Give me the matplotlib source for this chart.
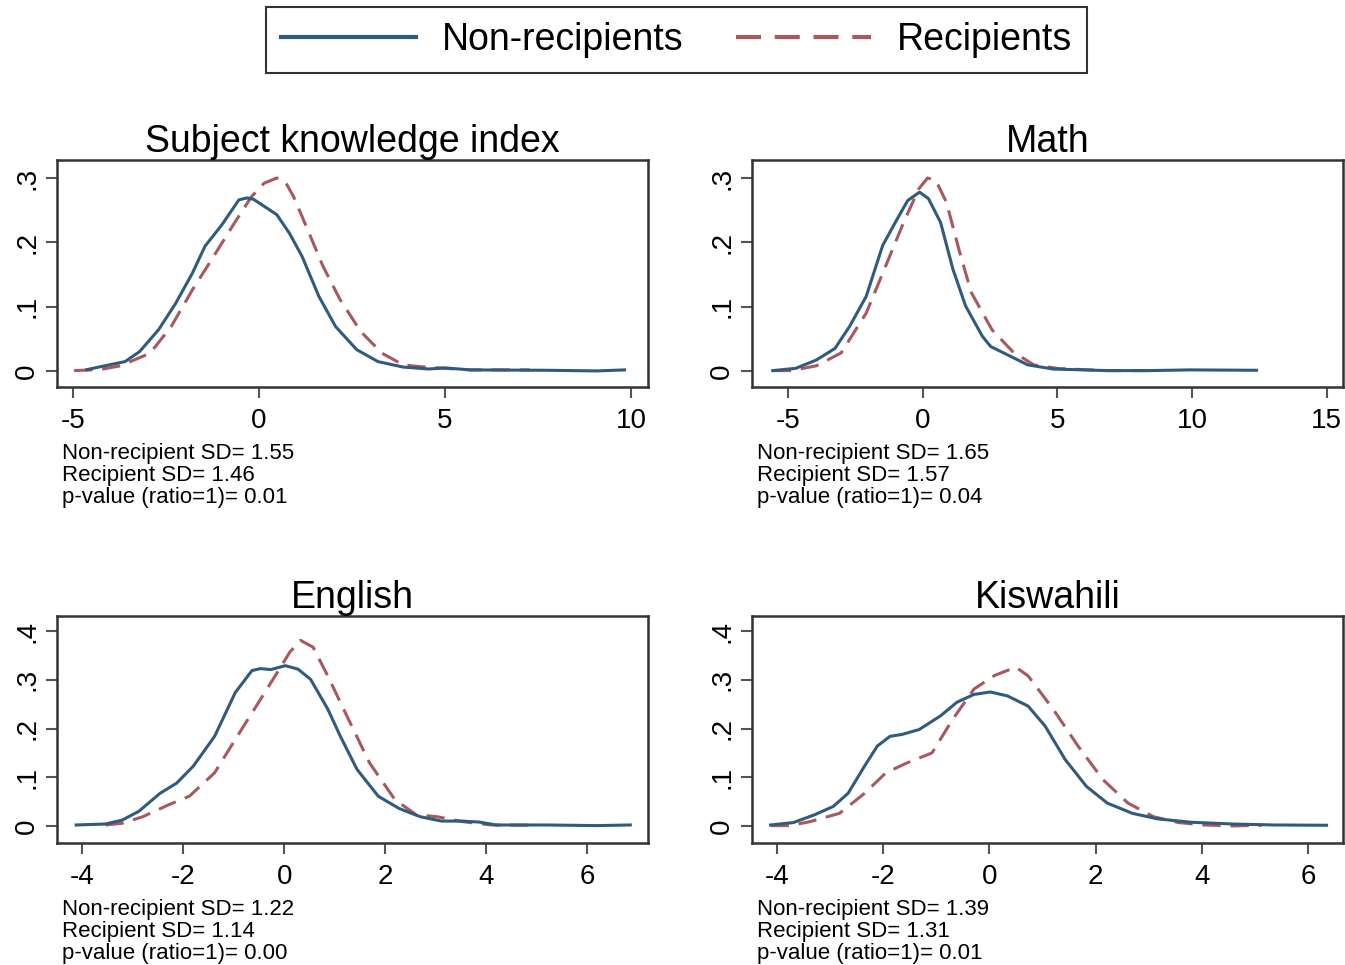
import matplotlib
matplotlib.use("Agg")
import matplotlib.pyplot as plt
from matplotlib.lines import Line2D

plt.rcParams['font.family'] = ['Liberation Sans', 'DejaVu Sans']

BLUE = '#2f5b7e'
RED = '#a8585f'

# Subject knowledge index
ski_non_x = [-4.63, -4.06, -3.6, -3.21, -2.70, -2.24, -1.79, -1.45, -1.0, -0.54, -0.32, -0.15, 0.14, 0.48,
             0.82, 1.16, 1.61, 2.06, 2.63, 3.2, 3.88, 4.56, 5.0, 5.69, 7.73, 9.09, 9.83]
ski_non_y = [0.002, 0.009, 0.0145, 0.030, 0.064, 0.105, 0.152, 0.194, 0.227, 0.266, 0.269, 0.267, 0.256, 0.243,
             0.214, 0.178, 0.116, 0.069, 0.033, 0.0145, 0.006, 0.003, 0.0047, 0.0016, 0.001, 0.0, 0.0016]
ski_rec_x = [-4.97, -4.29, -3.72, -2.93, -2.36, -1.79, -1.22, -0.66, -0.20, 0.14, 0.48, 0.70, 0.93, 1.27,
             1.72, 2.18, 2.74, 3.31, 3.88, 4.33, 5.0, 5.69, 7.28]
ski_rec_y = [0.0005, 0.002, 0.008, 0.0275, 0.069, 0.126, 0.178, 0.230, 0.271, 0.292, 0.300, 0.295, 0.271, 0.225,
             0.163, 0.111, 0.061, 0.0275, 0.0093, 0.0067, 0.004, 0.0016, 0.0016]

# Math
math_non_x = [-5.57, -4.72, -3.95, -3.26, -2.72, -2.10, -1.49, -1.02, -0.56, -0.12, 0.21, 0.66, 1.12, 1.59,
              2.21, 2.52, 3.29, 3.90, 4.83, 6.84, 8.38, 9.92, 12.39]
math_non_y = [0.0005, 0.004, 0.017, 0.035, 0.069, 0.116, 0.195, 0.231, 0.265, 0.278, 0.268, 0.231, 0.158, 0.101,
              0.054, 0.038, 0.022, 0.0094, 0.003, 0.0005, 0.0005, 0.0016, 0.001]
math_rec_x = [-5.57, -4.88, -3.95, -3.03, -2.10, -1.33, -0.71, -0.15, 0.18, 0.49, 0.88, 1.34, 1.80, 2.57,
              3.34, 4.12, 5.03, 6.84, 8.38]
math_rec_y = [0.0005, 0.0005, 0.008, 0.028, 0.090, 0.168, 0.231, 0.283, 0.300, 0.296, 0.262, 0.189, 0.122, 0.064,
              0.030, 0.0094, 0.0037, 0.0005, 0.0005]

# English
eng_non_x = [-4.12, -3.54, -3.21, -2.88, -2.46, -2.13, -1.80, -1.38, -0.97, -0.64, -0.47, -0.27, 0.02, 0.27,
             0.52, 0.86, 1.11, 1.44, 1.86, 2.27, 2.69, 3.11, 3.52, 3.86, 4.19, 5.19, 6.19, 6.85]
eng_non_y = [0.002, 0.004, 0.012, 0.030, 0.067, 0.088, 0.123, 0.184, 0.274, 0.319, 0.323, 0.321, 0.329, 0.322,
             0.301, 0.240, 0.184, 0.116, 0.061, 0.036, 0.019, 0.010, 0.010, 0.008, 0.002, 0.002, 0.0007, 0.002]
eng_rec_x = [-3.54, -3.21, -2.80, -2.30, -1.88, -1.38, -0.89, -0.47, -0.14, 0.11, 0.32, 0.57, 0.86, 1.27,
             1.69, 2.19, 2.61, 3.02, 3.52, 4.10, 5.02]
eng_rec_y = [0.002, 0.0055, 0.019, 0.043, 0.061, 0.109, 0.191, 0.260, 0.315, 0.357, 0.381, 0.367, 0.308, 0.219,
             0.129, 0.054, 0.023, 0.019, 0.009, 0.002, 0.0014]

# Kiswahili
kis_non_x = [-4.12, -3.69, -3.29, -2.94, -2.66, -2.35, -2.11, -1.87, -1.64, -1.32, -0.92, -0.61, -0.29, 0.02,
             0.34, 0.73, 1.05, 1.43, 1.83, 2.22, 2.69, 3.17, 3.80, 4.58, 5.37, 6.35]
kis_non_y = [0.002, 0.007, 0.023, 0.040, 0.067, 0.123, 0.164, 0.184, 0.188, 0.198, 0.226, 0.254, 0.270, 0.275,
             0.267, 0.246, 0.205, 0.136, 0.081, 0.047, 0.026, 0.0145, 0.0076, 0.004, 0.002, 0.0014]
kis_rec_x = [-4.12, -3.76, -3.37, -2.82, -2.35, -1.95, -1.56, -1.08, -0.69, -0.29, 0.10, 0.50, 0.73, 1.20,
             1.67, 2.14, 2.61, 3.09, 3.56, 4.03, 4.58, 5.13]
kis_rec_y = [0.0007, 0.0007, 0.009, 0.026, 0.067, 0.109, 0.129, 0.150, 0.219, 0.281, 0.309, 0.326, 0.308, 0.240,
             0.164, 0.095, 0.047, 0.019, 0.007, 0.002, 0.0, 0.0014]

titles = ["Subject knowledge index", "Math", "English", "Kiswahili"]
non_sd = ["1.55", "1.65", "1.22", "1.39"]
rec_sd = ["1.46", "1.57", "1.14", "1.31"]
pvals = ["0.01", "0.04", "0.00", "0.01"]

xticks = [[-5, 0, 5, 10], [-5, 0, 5, 10, 15], [-4, -2, 0, 2, 4, 6], [-4, -2, 0, 2, 4, 6]]
yticks = [[0, 0.1, 0.2, 0.3], [0, 0.1, 0.2, 0.3], [0, 0.1, 0.2, 0.3, 0.4], [0, 0.1, 0.2, 0.3, 0.4]]
ytick_labels = [["0", ".1", ".2", ".3"], ["0", ".1", ".2", ".3"],
                ["0", ".1", ".2", ".3", ".4"], ["0", ".1", ".2", ".3", ".4"]]
xlims = [(-5.43, 10.46), (-6.34, 15.6), (-4.5, 7.2), (-4.47, 6.66)]
ylims = [(-0.025, 0.328), (-0.025, 0.328), (-0.035, 0.431), (-0.035, 0.431)]

curves = [(ski_non_x, ski_non_y, ski_rec_x, ski_rec_y),
          (math_non_x, math_non_y, math_rec_x, math_rec_y),
          (eng_non_x, eng_non_y, eng_rec_x, eng_rec_y),
          (kis_non_x, kis_non_y, kis_rec_x, kis_rec_y)]

W, H = 1345, 965
fig = plt.figure(figsize=(W / 100, H / 100), dpi=100)

# axes boxes in pixels: left, top, right, bottom
boxes = [(57, 160, 648, 387), (752, 160, 1343, 387), (57, 616, 648, 843), (752, 616, 1343, 843)]

for i in range(4):
    l, t, r, b = boxes[i]
    ax = fig.add_axes([l / W, 1 - b / H, (r - l) / W, (b - t) / H])
    nx, ny, rx, ry = curves[i]
    ax.plot(rx, ry, color=RED, lw=2.2, dashes=(6, 3.2))
    ax.plot(nx, ny, color=BLUE, lw=2.2)
    ax.set_xlim(*xlims[i])
    ax.set_ylim(*ylims[i])
    ax.set_xticks(xticks[i])
    ax.set_xticklabels([str(v) for v in xticks[i]])
    ax.set_yticks(yticks[i])
    ax.set_yticklabels(ytick_labels[i], rotation=90, va='center')
    ax.tick_params(axis='both', labelsize=20, length=8, width=1.5, color='#555555', pad=4)
    ax.tick_params(axis='x', pad=7)
    for s in ax.spines.values():
        s.set_linewidth(1.8)
        s.set_color('#333333')
    ax.set_title(titles[i], fontsize=27, pad=4)

    # SD notes below the axis
    lines = ["Non-recipient SD= " + non_sd[i],
             "Recipient SD= " + rec_sd[i],
             "p-value (ratio=1)= " + pvals[i]]
    for k, txt in enumerate(lines):
        fig.text((l + 5) / W, 1 - (b + 66 + 22 * k) / H, txt, fontsize=16, va='center', ha='left')

handles = [Line2D([], [], color=BLUE, lw=3),
           Line2D([], [], color=RED, lw=3, dashes=(6, 3.3))]
leg = fig.legend(handles, ["Non-recipients", "Recipients"], loc='upper center',
                 bbox_to_anchor=(0.503, 0.993), ncol=2, fontsize=27, frameon=True,
                 fancybox=False, edgecolor='black', handlelength=3.6, columnspacing=1.4,
                 borderpad=0.4, handletextpad=0.7, borderaxespad=0)
leg.get_frame().set_linewidth(1.5)

fig.savefig("out.png", dpi=100)
